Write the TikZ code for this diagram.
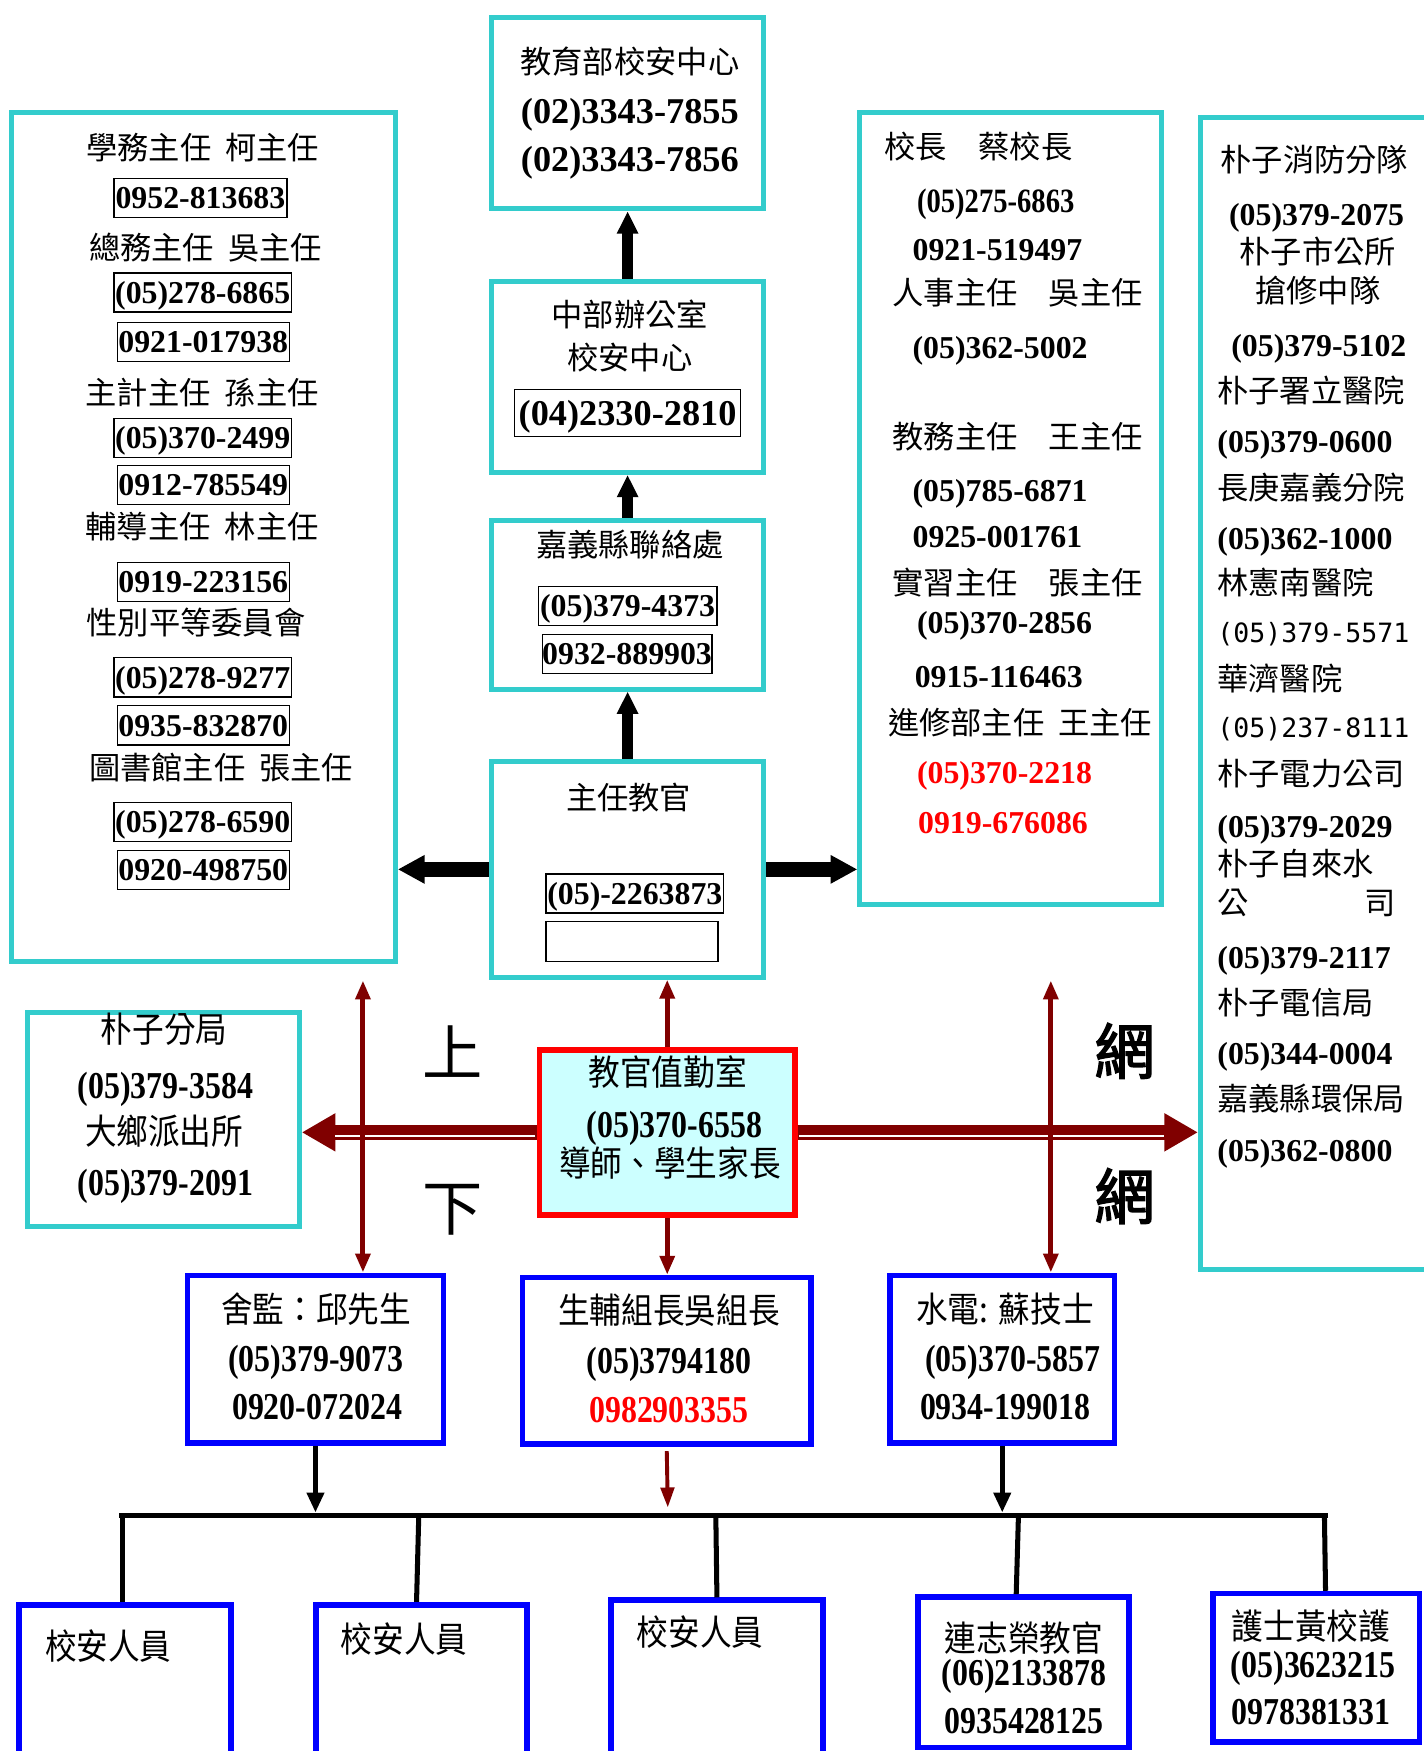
\documentclass[tikz,border=0pt]{standalone}
\usepackage{fontspec}
\usepackage{graphicx}
\setmainfont{Liberation Serif}
\newfontfamily\cjk{Noto Sans CJK TC}
\newfontfamily\cjkc[FakeStretch=0.9]{Noto Sans CJK TC}
\newfontfamily\cjkbold[FakeBold=2.5]{Noto Sans CJK TC}
\newfontfamily\serc[FakeStretch=0.84]{Liberation Serif}
\newfontfamily\monof{DejaVu Sans Mono}
\usetikzlibrary{arrows.meta,calc}
\definecolor{tealc}{RGB}{51,204,204}
\definecolor{darkr}{RGB}{128,0,0}
\definecolor{lcyan}{RGB}{204,255,255}
\definecolor{blu}{RGB}{0,0,255}
\definecolor{redt}{RGB}{255,0,0}
\tikzset{
 tbox/.style={draw=tealc, line width=4.5pt, inner sep=0pt},
 bbox/.style={draw=blu, line width=5pt, inner sep=0pt},
 rbox/.style={draw=redt, fill=lcyan, line width=5pt, inner sep=0pt},
 barrow/.style={draw=black, line width=10pt, -{Triangle[width=18pt,length=20pt]}},
 harrow/.style={draw=black, line width=13pt, -{Triangle[width=24pt,length=24pt]}},
 sarrow/.style={draw=black, line width=4.5pt, -{Triangle[width=15pt,length=18pt]}},
 rarrow/.style={draw=darkr, line width=4.5pt, {Triangle[width=13pt,length=17pt]}-{Triangle[width=13pt,length=17pt]}},
 rarrowone/.style={draw=darkr, line width=4.5pt, -{Triangle[width=13pt,length=17pt]}},
 redband/.style={draw=darkr, line width=13pt, -{Triangle[width=32pt,length=30pt]}},
 hline/.style={draw=black, line width=5pt},
 dline/.style={draw=black, line width=4.5pt},
 cn/.style={font=\cjk\fontsize{28}{30}\selectfont, inner sep=0pt, text height=24.6pt, text depth=3.4pt},
 cnc/.style={font=\cjkc\fontsize{31.5}{33}\selectfont, inner sep=0pt, text height=27.7pt, text depth=3.8pt},
 ph/.style={font=\bfseries\fontsize{28.5}{30}\selectfont, inner sep=0pt, text height=19.3pt, text depth=0pt},
 phl/.style={font=\bfseries\fontsize{32.5}{34}\selectfont, inner sep=0pt, text height=22pt, text depth=0pt},
 phc/.style={font=\serc\bfseries\fontsize{34}{36}\selectfont, inner sep=0pt, text height=23pt, text depth=0pt},
 mono/.style={font=\monof\fontsize{23.8}{26}\selectfont, inner sep=0pt, text height=17.4pt, text depth=0pt},
 phbox/.style={draw=black, line width=1.2pt, minimum height=35pt, inner xsep=0pt},
 bigc/.style={font=\cjk\fontsize{54}{56}\selectfont, inner sep=0pt, text height=47.5pt, text depth=6.5pt},
 bigb/.style={font=\cjkbold\fontsize{54}{56}\selectfont, inner sep=0pt, text height=47.5pt, text depth=6.5pt},
}
\begin{document}
\begin{tikzpicture}[x=1pt,y=-1pt]
\useasboundingbox (0,0) rectangle (1275,1568);
\clip (0,0) rectangle (1275,1568);
\fill[white] (0,0) rectangle (1275,1568);

% ---------- boxes ----------
\node[tbox, minimum width=244pt, minimum height=171pt] (edu) at (562,101.5) {};
\node[tbox, minimum width=244pt, minimum height=171pt] (zb) at (562,337.5) {};
\node[tbox, minimum width=244pt, minimum height=151pt] (jy) at (562,541.5) {};
\node[tbox, minimum width=244pt, minimum height=193pt] (zr) at (562,778.5) {};
\node[tbox, minimum width=344pt, minimum height=760pt] (lb) at (182,481) {};
\node[tbox, minimum width=270pt, minimum height=709pt] (pb) at (905,455.5) {};
\node[tbox, minimum width=240pt, minimum height=1032pt] (rb) at (1195,621) {};
\node[tbox, minimum width=243pt, minimum height=191pt] (pz) at (146.5,1002.5) {};
\node[rbox, minimum width=229pt, minimum height=148pt] (dt) at (597.5,1014) {};
\node[bbox, minimum width=229pt, minimum height=150pt] (sj) at (282.5,1217) {};
\node[bbox, minimum width=258pt, minimum height=149pt] (sf) at (597,1218.5) {};
\node[bbox, minimum width=201pt, minimum height=150pt] (sd) at (897.5,1217) {};
\node[bbox, minimum width=190pt, minimum height=180pt] (b1) at (112,1527) {};
\node[bbox, minimum width=189pt, minimum height=180pt] (b2) at (377.5,1527) {};
\node[bbox, minimum width=190pt, minimum height=184pt] (b3) at (642,1525) {};
\node[bbox, minimum width=189pt, minimum height=135pt] (b4) at (916.5,1497.5) {};
\node[bbox, minimum width=185pt, minimum height=133pt] (b5) at (1178.5,1493.5) {};

% ---------- black arrows (upper) ----------
\draw[barrow] (zb.north) -- (edu.south);
\draw[barrow] (jy.north) -- (zb.south);
\draw[barrow] (zr.north) -- (jy.south);
\draw[harrow] (zr.west) -- (zr.west -| lb.east);
\draw[harrow] (zr.east) -- (zr.east -| pb.west);

% ---------- red double band arrows ----------
\draw[redband] (dt.west) -- (dt.west -| pz.east);
\draw[white, line width=1.8pt] ($(dt.west)+(-1,3)$) -- ($(dt.west -| pz.east)+(30,3)$);
\draw[redband] (dt.east) -- (dt.east -| rb.west);
\draw[white, line width=1.8pt] ($(dt.east)+(1,3)$) -- ($(dt.east -| rb.west)+(-30,3)$);

% ---------- red vertical arrows ----------
\coordinate (vl) at (325,878);
\coordinate (vr) at (941,878);
\draw[rarrow] (vl) -- (vl |- sj.north);
\draw[rarrow] (vr) -- (vr |- sd.north);
\draw[rarrowone] (dt.north) -- (dt.north |- zr.south);
\draw[rarrowone] (dt.south) -- (dt.south |- sf.north);
\coordinate (rs2) at (598,1350);
\draw[draw=darkr, line width=3.5pt, -{Triangle[width=12pt,length=18pt]}, shorten <=4pt] (sf.south) -- (rs2);

% ---------- bottom distribution line ----------
\coordinate (hL) at (107,1357);
\coordinate (hR) at (1189,1357);
\draw[hline] (hL) -- (hR);
\draw[sarrow] (sj.south) -- ($(sj.south |- hL)+(0,-2.5)$);
\draw[sarrow] (sd.south) -- ($(sd.south |- hL)+(0,-2.5)$);
\coordinate (d1) at (110,1357);
\coordinate (d2) at (375,1357);
\coordinate (d3) at (641,1357);
\coordinate (d4) at (912,1357);
\coordinate (d5) at (1186,1357);
\draw[dline] (d1) -- (d1 |- b1.north);
\draw[dline] (d2) -- ($(d2 |- b2.north)+(-2,0)$);
\draw[dline] (d3) -- ($(d3 |- b3.north)+(1,0)$);
\draw[dline] (d4) -- ($(d4 |- b4.north)+(-2,0)$);
\draw[dline] (d5) -- ($(d5 |- b5.north)+(1,0)$);

% ---------- top column texts ----------
\node[cn] (e1) at (564,55.5) {教育部校安中心};
\node[phl] (e2) at (564,100) {(02)3343-7855};
\node[phl] (e3) at (564,143) {(02)3343-7856};
\node[cn] (z1) at (564,282) {中部辦公室};
\node[cn] (z2) at (564,320.5) {校安中心};
\node[phl, phbox, minimum height=42pt, minimum width=202pt] (z3) at (562,370) {(04)2330-2810};
\node[cn] (j1) at (564,488) {嘉義縣聯絡處};
\node[ph, phbox, minimum width=160pt] (j2) at (562,542.5) {(05)379-4373};
\node[ph, phbox, minimum width=151pt] (j3) at (561.5,585.5) {0932-889903};
\node[cn] (c1) at (563,714) {主任教官};
\node[ph, phbox, minimum width=159pt] (c2) at (568.5,800) {(05)-2263873};
\node[phbox, minimum width=154pt, minimum height=36pt] (c3) at (566,843) {};

% ---------- left box texts ----------
\node[cn] (l1) at (181.5,132.5) {學務主任\hspace{0.45em}柯主任};
\node[ph, phbox, minimum width=155pt] (l2) at (179.5,177.5) {0952-813683};
\node[cn] (l3) at (184,222) {總務主任\hspace{0.45em}吳主任};
\node[ph, phbox, minimum width=159pt] (l4) at (181.5,262) {(05)278-6865};
\node[ph, phbox, minimum width=154pt] (l5) at (182,306) {0921-017938};
\node[cn] (l6) at (181,352) {主計主任\hspace{0.45em}孫主任};
\node[ph, phbox, minimum width=159pt] (l7) at (181.5,392) {(05)370-2499};
\node[ph, phbox, minimum width=154pt] (l8) at (182,434.5) {0912-785549};
\node[cn] (l9) at (181,472) {輔導主任\hspace{0.45em}林主任};
\node[ph, phbox, minimum width=154pt] (l10) at (182,521) {0919-223156};
\node[cn] (l11) at (175.5,558) {性別平等委員會};
\node[ph, phbox, minimum width=159pt] (l12) at (181.5,606.5) {(05)278-9277};
\node[ph, phbox, minimum width=154pt] (l13) at (182,649.5) {0935-832870};
\node[cn] (l14) at (198,687) {圖書館主任\hspace{0.45em}張主任};
\node[ph, phbox, minimum width=159pt] (l15) at (181.5,736) {(05)278-6590};
\node[ph, phbox, minimum width=154pt] (l16) at (182,779) {0920-498750};

% ---------- principal box texts ----------
\node[cn, anchor=west] (p1) at (792,131.6) {校長　蔡校長};
\node[ph, anchor=west, font=\serc\bfseries\fontsize{30.5}{32}\selectfont] (p2) at (821,181) {(05)275-6863};
\node[ph, anchor=west] (p3) at (817,224) {0921-519497};
\node[cn, anchor=west] (p4) at (799,262) {人事主任　吳主任};
\node[ph, anchor=west] (p5) at (817,311) {(05)362-5002};
\node[cn, anchor=west] (p6) at (799,391) {教務主任　王主任};
\node[ph, anchor=west] (p7) at (817,439) {(05)785-6871};
\node[ph, anchor=west] (p8) at (817,481) {0925-001761};
\node[cn, anchor=west] (p9) at (799,522) {實習主任　張主任};
\node[ph, anchor=west] (p10) at (821,558) {(05)370-2856};
\node[ph, anchor=west] (p11) at (819,606) {0915-116463};
\node[cn, anchor=west] (p12) at (795,647) {進修部主任\hspace{0.45em}王主任};
\node[ph, anchor=west, text=redt] (p13) at (821,692) {(05)370-2218};
\node[ph, anchor=west, text=redt] (p14) at (822,737) {0919-676086};

% ---------- far right texts ----------
\node[cn] (r1) at (1177,143) {朴子消防分隊};
\node[ph] (r2) at (1179,192) {(05)379-2075};
\node[cn] (r3) at (1180,225) {朴子市公所};
\node[cn] (r4) at (1180,260) {搶修中隊};
\node[ph] (r5) at (1181,310) {(05)379-5102};
\node[cn, anchor=west] (r6) at (1090,350) {朴子署立醫院};
\node[ph, anchor=west] (r7) at (1090,396) {(05)379-0600};
\node[cn, anchor=west] (r8) at (1090,437) {長庚嘉義分院};
\node[ph, anchor=west] (r9) at (1090,482) {(05)362-1000};
\node[cn, anchor=west] (r10) at (1090,522) {林憲南醫院};
\node[mono, anchor=west] (r11) at (1090,567) {(05)379-5571};
\node[cn, anchor=west] (r12) at (1090,608) {華濟醫院};
\node[mono, anchor=west] (r13) at (1090,652) {(05)237-8111};
\node[cn, anchor=west] (r14) at (1090,693) {朴子電力公司};
\node[ph, anchor=west] (r15) at (1090,740) {(05)379-2029};
\node[cn, anchor=west] (r16) at (1090,773) {朴子自來水};
\node[cn, anchor=west] (r17) at (1090,808) {公\hspace{104pt}司};
\node[ph, anchor=west] (r18) at (1090,858) {(05)379-2117};
\node[cn, anchor=west] (r19) at (1090,898) {朴子電信局};
\node[ph, anchor=west] (r20) at (1090,944) {(05)344-0004};
\node[cn, anchor=west] (r21) at (1090,984) {嘉義縣環保局};
\node[ph, anchor=west] (r22) at (1090,1030) {(05)362-0800};

% ---------- police box ----------
\node[cnc] (q1) at (147,922) {朴子分局};
\node[phc] (q2) at (148,972) {(05)379-3584};
\node[cnc] (q3) at (147,1013) {大鄉派出所};
\node[phc] (q4) at (148,1059) {(05)379-2091};

% ---------- duty room ----------
\node[cnc] (k1) at (598,960) {教官值勤室};
\node[phc] (k2) at (604,1007) {(05)370-6558};
\node[cnc] (k3) at (600,1042) {導師、學生家長};

% ---------- big characters ----------
\node[bigc] (u1) at (405,943) {上};
\node[bigc] (u2) at (405,1081) {下};
\node[bigb] (w1) at (1007,941) {網};
\node[bigb] (w2) at (1007,1071) {網};

% ---------- blue boxes texts ----------
\node[cnc] (s1) at (283,1172) {舍監：邱先生};
\node[phc] (s2) at (283,1217) {(05)379-9073};
\node[phc] (s3) at (284,1260) {0920-072024};
\node[cnc] (f1) at (599,1173) {生輔組長吳組長};
\node[phc] (f2) at (599,1218) {(05)3794180};
\node[phc, text=redt] (f3) at (599,1262) {0982903355};
\node[cnc] (w3) at (900,1172) {水電:\hspace{0.3em}蘇技士};
\node[phc] (w4) at (907,1217) {(05)370-5857};
\node[phc] (w5) at (900,1260) {0934-199018};

\node[cnc] (g1) at (97,1474) {校安人員};
\node[cnc] (g2) at (362,1468) {校安人員};
\node[cnc] (g3) at (627,1462) {校安人員};
\node[cnc] (n1) at (917,1467) {連志榮教官};
\node[phc] (n2) at (917,1498) {(06)2133878};
\node[phc] (n3) at (917,1541) {0935428125};
\node[cnc] (h1) at (1174,1456) {護士黃校護};
\node[phc] (h2) at (1176,1491) {(05)3623215};
\node[phc] (h3) at (1174,1533) {0978381331};
\end{tikzpicture}
\end{document}
